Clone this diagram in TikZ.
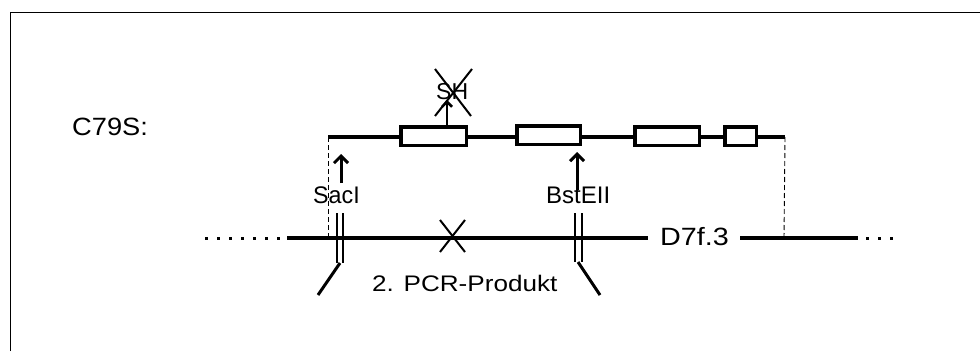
\documentclass[tikz,border=0pt]{standalone}
\usepackage{fontspec}
\setmainfont{Liberation Sans}
\usetikzlibrary{arrows.meta}
\begin{document}
\begin{tikzpicture}[x=1pt,y=-1pt,
  thickline/.style={line width=3.2pt},
  exonbox/.style={draw, line width=3.5pt, fill=white, inner sep=0pt, minimum height=18.5pt},
  lbl/.style={inner sep=0pt, anchor=base west},
  cut/.style={line width=2pt},
  guide/.style={line width=0.9pt, dash pattern=on 5pt off 3pt},
  site/.style={line width=3pt, -{Straight Barb[length=7pt,width=14pt]}},
  dotted line/.style={line width=3pt, dash pattern=on 2.5pt off 9.5pt}]
\useasboundingbox (0,0) rectangle (980,351);
% frame
\draw[line width=1.5pt] (10.5,351) -- (10.5,12.7) -- (980,12.7);

% coordinates
\coordinate (topL) at (328,137);
\coordinate (topR) at (785,137);
\coordinate (lowL) at (287,238);
\coordinate (lowM) at (648,238);
\coordinate (lowN) at (740,238);
\coordinate (lowR) at (858,238);
\coordinate (dotL1) at (205,238);
\coordinate (dotL2) at (282,238);
\coordinate (dotR1) at (866,238);
\coordinate (dotR2) at (900,238);
\coordinate (guideL) at (328,238);
\coordinate (guideR) at (784,238);

% guides
\draw[guide] (topL) -- (guideL);
\draw[guide] (topR) -- (guideR);

% upper construct
\draw[thickline] (topL) -- (topR);
\node[exonbox, minimum width=65.5pt] (e1) at (433.5,136) {};
\node[exonbox, minimum width=63.5pt] (e2) at (548.5,135) {};
\node[exonbox, minimum width=64.5pt] (e3) at (667,136) {};
\node[exonbox, minimum width=31.5pt] (e4) at (740.5,136) {};

% SH mutation
\coordinate (shTail) at (447,125);
\coordinate (shTip) at (447,100);
\draw[line width=2.5pt, -{Straight Barb[length=5pt,width=10pt]}] (shTail) -- (shTip);
\node[lbl, font=\fontsize{23}{27}\selectfont] (sh) at (436,99) {SH};
\coordinate (xa1) at (435,69);
\coordinate (xa2) at (471,116);
\coordinate (xb1) at (472,69);
\coordinate (xb2) at (435,116);
\draw[cut] (xa1) -- (xa2);
\draw[cut] (xb1) -- (xb2);

% C79S label
\node[lbl, font=\fontsize{25}{30}\selectfont] (c79s) at (72,135) {\scalebox{1.09}[1]{C79S:}};

% restriction sites arrows
\coordinate (sacTail) at (341,183);
\coordinate (sacTip) at (341,154);
\draw[site] (sacTail) -- (sacTip);
\node[lbl, font=\fontsize{24}{28}\selectfont] (sac) at (313,203) {\scalebox{0.97}[1]{SacI}};
\coordinate (bstTail) at (577,190);
\coordinate (bstTip) at (577,152);
\draw[site] (bstTail) -- (bstTip);
\node[lbl, font=\fontsize{24}{28}\selectfont] (bst) at (546,203) {BstEII};

% lower genomic line
\draw[dotted line] (dotL1) -- (dotL2);
\draw[thickline] (lowL) -- (lowM);
\node[lbl, font=\fontsize{25}{30}\selectfont] (d7) at (660,245) {\scalebox{1.15}[1]{D7f.3}};
\draw[thickline] (lowN) -- (lowR);
\draw[dotted line] (dotR1) -- (dotR2);

% cross on lower line
\coordinate (ya1) at (440,220);
\coordinate (ya2) at (465,252);
\coordinate (yb1) at (465,220);
\coordinate (yb2) at (440,252);
\draw[cut] (ya1) -- (ya2);
\draw[cut] (yb1) -- (yb2);

% primers / PCR product ends
\coordinate (s1a) at (337,213);
\coordinate (s1b) at (337,263);
\coordinate (s2a) at (343,213);
\coordinate (s2b) at (343,263);
\coordinate (s3a) at (340,263);
\coordinate (s3b) at (318,295);
\draw[cut] (s1a) -- (s1b);
\draw[cut] (s2a) -- (s2b);
\draw[line width=3pt] (s3a) -- (s3b);
\coordinate (b1a) at (575,213);
\coordinate (b1b) at (575,262);
\coordinate (b2a) at (582,213);
\coordinate (b2b) at (582,262);
\coordinate (b3a) at (578,262);
\coordinate (b3b) at (600,295);
\draw[cut] (b1a) -- (b1b);
\draw[cut] (b2a) -- (b2b);
\draw[line width=3pt] (b3a) -- (b3b);

\node[lbl, font=\fontsize{22.5}{27}\selectfont] (pcr) at (372,291) {\scalebox{1.16}[1]{2. PCR-Produkt}};
\end{tikzpicture}
\end{document}
